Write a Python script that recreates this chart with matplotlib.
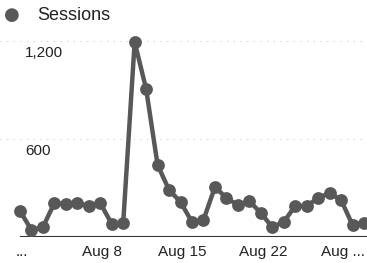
import matplotlib
matplotlib.use("Agg")
import matplotlib.pyplot as plt

# daily sessions, Aug 1 .. Aug 31
days = list(range(31))
sessions = [159, 43, 61, 208, 202, 208, 190, 208, 80, 86,
            1194, 906, 441, 288, 214, 92, 104, 306, 239, 196,
            220, 147, 61, 92, 190, 190, 239, 269, 227, 73, 86]

tick_days = [0, 7, 14, 21, 28]
tick_labels = ["...", "Aug 8", "Aug 15", "Aug 22", "Aug ..."]
grid_values = [600, 1200]
grid_labels = ["600", "1,200"]

plt.rcParams["font.family"] = ["Liberation Sans", "DejaVu Sans"]
line_color = "#585858"
dpi = 100

fig = plt.figure(figsize=(3.67, 2.63), dpi=dpi)
ax = fig.add_axes([0, 26 / 263, 1, 211 / 263])
px_per_day = 344 / 30
ax.set_xlim(-20 / px_per_day, 30 + 3 / px_per_day)
ax.set_ylim(0, 211 / 98 * 600)
ax.axis("off")

# faint dotted gridlines with labels just under them
for v, lab in zip(grid_values, grid_labels):
    ax.axhline(v, color="#cccccc", lw=0.8, ls=(0, (1, 5)), zorder=1)
    ax.annotate(lab, xy=(0, v), xycoords=("axes fraction", "data"),
                xytext=(25, -5), textcoords="offset pixels",
                ha="left", va="top", fontsize=11, color="#222222")

# baseline
ax.hlines(0, days[0], ax.get_xlim()[1], color="#333333", lw=1.5, zorder=2)

ax.plot(days, sessions, color=line_color, lw=3.2, marker="o", ms=9.2,
        markeredgewidth=0, zorder=3, clip_on=False)

# x tick labels
for d, lab in zip(tick_days, tick_labels):
    ax.annotate(lab, xy=(d, 0), xycoords="data", xytext=(2, -15),
                textcoords="offset pixels", ha="center", va="center",
                fontsize=11, color="#222222", annotation_clip=False)

# legend
fig.text(12 / 367, 1 - 15 / 263, "\u25cf", fontsize=13, color=line_color,
         ha="center", va="center", family="DejaVu Sans")
fig.text(37 / 367, 1 - 15 / 263, "Sessions", fontsize=13, color="#222222",
         ha="left", va="center")

fig.savefig("out.png", dpi=dpi)
